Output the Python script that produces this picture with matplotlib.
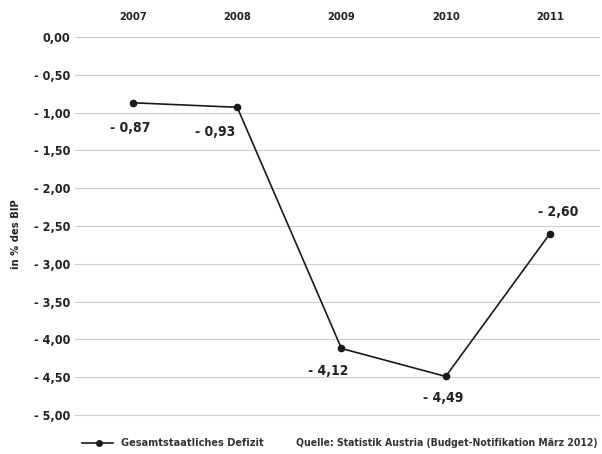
import matplotlib
matplotlib.use("Agg")
import matplotlib.pyplot as plt
from matplotlib.lines import Line2D

years = [2007, 2008, 2009, 2010, 2011]
deficit = [-0.87, -0.93, -4.12, -4.49, -2.60]
value_labels = ["- 0,87", "- 0,93", "- 4,12", "- 4,49", "- 2,60"]
yticks = [0.0, -0.5, -1.0, -1.5, -2.0, -2.5, -3.0, -3.5, -4.0, -4.5, -5.0]
ytick_labels = ["0,00", "- 0,50", "- 1,00", "- 1,50", "- 2,00", "- 2,50",
                "- 3,00", "- 3,50", "- 4,00", "- 4,50", "- 5,00"]
series_name = "Gesamtstaatliches Defizit"
source = "Quelle: Statistik Austria (Budget-Notifikation März 2012)"
ylabel = "in % des BIP"

plt.rcParams['font.family'] = ['DejaVu Sans']
plt.rcParams['font.stretch'] = 'condensed'

fig = plt.figure(figsize=(6.02, 4.54), dpi=100)
top_px, bot_px = 37, 415
ax = fig.add_axes([75/602, 1-(bot_px+3)/454, (600-75)/602, (bot_px-top_px+6)/454])
span = 5.0 / (bot_px - top_px)
ax.set_ylim(-5.0 - 3*span, 0.0 + 3*span)
ax.set_xlim(2007 - 0.556, 2011 + 0.48)

for s in ax.spines.values():
    s.set_visible(False)

ax.set_yticks(yticks)
ax.set_yticklabels(ytick_labels, fontsize=9, fontweight='bold', color='#222222')
ax.yaxis.grid(True, color='#cccccc', linewidth=0.8)
ax.tick_params(axis='y', length=0, pad=3.6)

ax.set_xticks(years)
ax.set_xticklabels([str(y) for y in years], fontsize=8, fontweight='bold', color='#222222')
ax.xaxis.tick_top()
ax.tick_params(axis='x', length=0, pad=9)
ax.set_axisbelow(True)

ax.plot(years, deficit, color='#1a1a1a', linewidth=1.2, marker='o', markersize=4.5, clip_on=False)

offsets = [(-3, -25), (-22, -25), (-13, -23), (-3, -22), (8, 22)]
for x, y, lab, off in zip(years, deficit, value_labels, offsets):
    ax.annotate(lab, (x, y), xytext=off, textcoords='offset pixels',
                ha='center', va='center', fontsize=10, fontweight='bold', color='#222222')

ax.set_ylabel(ylabel, fontsize=8, fontweight='bold', color='#222222')
ax.yaxis.set_label_coords((21-75)/525, (418-234)/384)

# legend-like footer
fy = 1 - 443/454
fig.add_artist(Line2D([82/602, 113/602], [fy, fy], color='#1a1a1a', linewidth=1.2))
fig.add_artist(Line2D([99/602], [fy], color='#1a1a1a', marker='o', markersize=4, linestyle='none'))
fig.text(121/602, fy, series_name, fontsize=7.8, fontweight='bold', color='#333333', va='center')
fig.text(296/602, fy, source, fontsize=7.5, fontweight='bold', color='#333333', va='center')

fig.savefig("out.png", dpi=100, facecolor='white')
